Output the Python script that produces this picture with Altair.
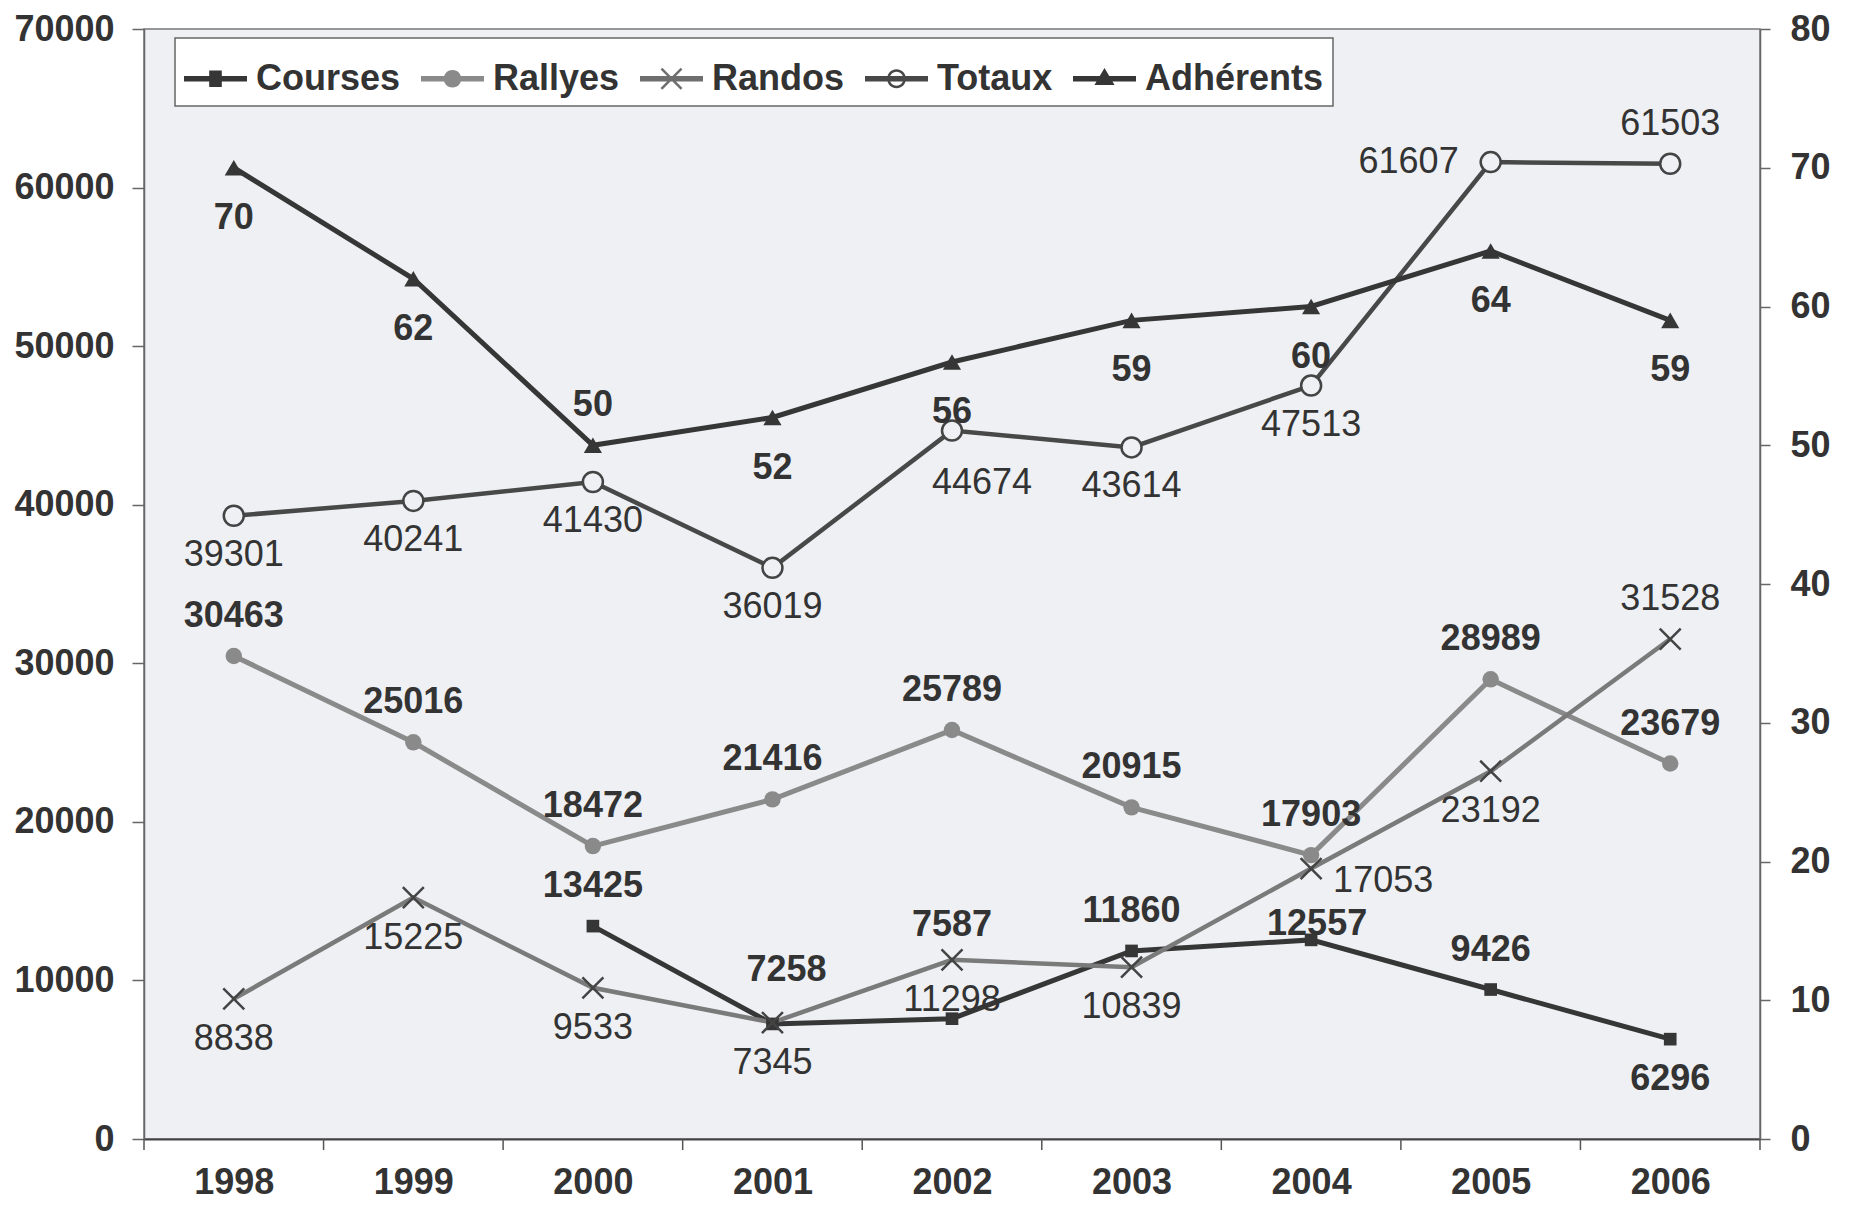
import math
import altair as alt
import pandas as pd

# ---------------- data ----------------
years = [1998, 1999, 2000, 2001, 2002, 2003, 2004, 2005, 2006]
courses = [None, None, 13425, 7258, 7587, 11860, 12557, 9426, 6296]
rallyes = [30463, 25016, 18472, 21416, 25789, 20915, 17903, 28989, 23679]
randos = [8838, 15225, 9533, 7345, 11298, 10839, 17053, 23192, 31528]
totaux = [39301, 40241, 41430, 36019, 44674, 43614, 47513, 61607, 61503]
adherents = [70, 62, 50, 52, 56, 59, 60, 64, 59]

# where each value label sits relative to its point
courses_pos = [None, None, "above", "above_r", "high", "above", "near", "above", "below"]
rallyes_pos = ["above"] * 9
randos_pos = ["below"] * 6 + ["right", "below", "above"]
totaux_pos = ["below"] * 4 + ["below_r"] + ["below"] * 2 + ["left", "above"]
adherents_pos = ["below", "below", "above"] + ["below"] * 6

series_names = ["Courses", "Rallyes", "Randos", "Totaux", "Adhérents"]
left_ticks = [0, 10000, 20000, 30000, 40000, 50000, 60000, 70000]
right_ticks = [0, 10, 20, 30, 40, 50, 60, 70, 80]

# ---------------- style ----------------
FONT = "Liberation Sans"
TXT = "#333333"
BG = "#eef0f4"
W, H = 1616, 1110
FS = 36

colors = {"Courses": "#363636", "Rallyes": "#8a8a8a", "Randos": "#7a7a7a",
          "Totaux": "#484848", "Adhérents": "#363636"}
widths = {"Courses": 5, "Rallyes": 5, "Randos": 4.5, "Totaux": 4.5, "Adhérents": 5}
bold = {"Courses": True, "Rallyes": True, "Randos": False, "Totaux": False, "Adhérents": True}
off_below = {"Courses": 40, "Rallyes": 40, "Randos": 40, "Totaux": 39, "Adhérents": 50}
off_above = {"Courses": 40, "Rallyes": 40, "Randos": 40, "Totaux": 40, "Adhérents": 40}

XPATH = "M-1,-1L1,1M-1,1L1,-1"
point_style = {
    "Courses": dict(shape="square", filled=True, size=160, color="#363636"),
    "Rallyes": dict(shape="circle", filled=True, size=270, color="#8a8a8a"),
    "Randos": dict(shape=XPATH, filled=False, size=440, color="#444444", strokeWidth=2.5),
    "Totaux": dict(shape="circle", filled=True, size=400, fill=BG, stroke="#444444", strokeWidth=2.5),
    "Adhérents": dict(shape="triangle-up", filled=True, size=330, color="#363636"),
}

xscale = alt.Scale(domain=[years[0] - 0.5, years[-1] + 0.5], nice=False, zero=False)
xaxis = alt.Axis(values=years, format="d", tickSize=0, labelFontSize=FS, labelFont=FONT,
                 labelFontWeight="bold", labelColor=TXT, labelPadding=26, domainColor="#444444",
                 domainWidth=2, grid=False, title=None, labelFlush=False, labelOverlap=False)
lscale = alt.Scale(domain=[0, 70000], nice=False, zero=True)
laxis = alt.Axis(values=left_ticks, format="d", orient="left", tickSize=12, tickColor="#666666",
                 tickWidth=1.5, domainColor="#666666", domainWidth=1.5, labelFontSize=FS,
                 labelFont=FONT, labelFontWeight="bold", labelColor=TXT, labelPadding=18,
                 grid=False, title=None, labelFlush=False, labelOverlap=False)
rscale = alt.Scale(domain=[0, 80], nice=False, zero=True)
raxis = alt.Axis(values=right_ticks, format="d", orient="right", tickSize=10, tickColor="#666666",
                 tickWidth=1.5, domainColor="#666666", domainWidth=1.5, labelFontSize=FS,
                 labelFont=FONT, labelFontWeight="bold", labelColor=TXT, labelPadding=20,
                 grid=False, title=None, labelFlush=False, labelOverlap=False)


def build(name, values, positions, yscale, yaxis):
    df = pd.DataFrame({"year": years, "value": values, "pos": positions}).dropna(subset=["value"])
    base = alt.Chart(df).encode(
        x=alt.X("year:Q", scale=xscale, axis=xaxis),
        y=alt.Y("value:Q", scale=yscale, axis=yaxis),
    )
    line = base.mark_line(color=colors[name], strokeWidth=widths[name])
    pts = base.mark_point(opacity=1, **point_style[name])
    vb, va = off_below[name], off_above[name]
    place = {"above": (0, -va, "center"), "below": (0, vb, "center"),
             "left": (-32, 0, "right"), "right": (22, 12, "left"),
             "high": (0, -94, "center"), "near": (6, -16, "center"),
             "above_r": (14, -54, "center"), "below_r": (30, 52, "center")}
    texts = []
    for p, (dx, dy, al) in place.items():
        if p not in set(df["pos"]):
            continue
        texts.append(
            base.transform_filter(alt.datum.pos == p)
            .mark_text(dx=dx, dy=dy, align=al, baseline="middle", fontSize=FS, font=FONT,
                       fontWeight="bold" if bold[name] else "normal", color=TXT)
            .encode(text=alt.Text("value:Q", format="d"))
        )
    return line, pts, texts


# ---------------- legend symbols (line + marker) ----------------
def poly(points, sign=1):
    a = sum(x0 * y1 - x1 * y0 for (x0, y0), (x1, y1) in zip(points, points[1:] + points[:1]))
    if a * sign < 0:
        points = points[::-1]
    return "M" + "L".join(f"{x:.3f},{y:.3f}" for x, y in points) + "Z"


def rect(x0, y0, x1, y1):
    return poly([(x0, y0), (x1, y0), (x1, y1), (x0, y1)])


def circ(r, sign=1, n=28):
    return poly([(r * math.cos(2 * math.pi * i / n), r * math.sin(2 * math.pi * i / n)) for i in range(n)], sign)


def bar(x0, y0, x1, y1, h):
    dx, dy = x1 - x0, y1 - y0
    L = math.hypot(dx, dy)
    nx, ny = -dy / L * h, dx / L * h
    return poly([(x0 + nx, y0 + ny), (x1 + nx, y1 + ny), (x1 - nx, y1 - ny), (x0 - nx, y0 - ny)])


t = 0.09
ln = rect(-1, -t, 1, t)
sym_paths = [
    ln + rect(-0.2, -0.26, 0.2, 0.26),
    ln + circ(0.28),
    ln + bar(-0.32, -0.32, 0.32, 0.32, 0.04) + bar(-0.32, 0.32, 0.32, -0.32, 0.04),
    ln + circ(0.3) + circ(0.22, -1),
    ln + poly([(0, -0.34), (0.32, 0.2), (-0.32, 0.2)]),
]
sym_colors = ["#363636", "#8a8a8a", "#6e6e6e", "#484848", "#363636"]

leg = alt.Legend(title=None, orient="none", legendX=31, legendY=9, direction="horizontal",
                 columns=5, symbolSize=3969, symbolStrokeWidth=0, labelFontSize=FS,
                 labelFontWeight="bold", labelColor=TXT, labelFont=FONT, labelOffset=9,
                 labelLimit=400, columnPadding=20, padding=9, fillColor="white",
                 strokeColor="#666666", symbolOpacity=1)

leg_df = pd.DataFrame({"series": series_names, "year": [years[-1] + 100] * 5, "value": [0] * 5})
legend_layer = alt.Chart(leg_df).mark_point(filled=True, opacity=1, clip=True).encode(
    x=alt.X("year:Q", scale=xscale, axis=xaxis),
    y=alt.Y("value:Q", scale=lscale, axis=laxis),
    shape=alt.Shape("series:N", scale=alt.Scale(domain=series_names, range=sym_paths), legend=leg),
    color=alt.Color("series:N", scale=alt.Scale(domain=series_names, range=sym_colors), legend=leg),
)

# x ticks between categories
bounds = [y - 0.5 for y in years] + [years[-1] + 0.5]
tick_layer = alt.Chart(pd.DataFrame({"year": bounds})).mark_rule(color="#555555", strokeWidth=1.5).encode(
    x=alt.X("year:Q", scale=xscale, axis=xaxis), y=alt.value(H), y2=alt.value(H + 11)
)

left_lines, left_pts, left_txt = [], [], []
for nm, vals, pos in [("Courses", courses, courses_pos), ("Rallyes", rallyes, rallyes_pos),
                      ("Randos", randos, randos_pos), ("Totaux", totaux, totaux_pos)]:
    l, p, tx = build(nm, vals, pos, lscale, laxis)
    left_lines.append(l)
    left_pts.append(p)
    left_txt.extend(tx)

a_line, a_pts, a_txt = build("Adhérents", adherents, adherents_pos, rscale, raxis)

left = alt.layer(tick_layer, legend_layer, *left_lines, *left_pts, *left_txt)
right = alt.layer(a_line, a_pts, *a_txt)

chart = (
    alt.layer(left, right)
    .resolve_scale(y="independent")
    .properties(width=W, height=H,
                padding={"left": 136, "top": 21, "right": 72, "bottom": 66},
                autosize=alt.AutoSizeParams(type="none"))
    .configure(background="white")
    .configure_view(fill=BG, stroke="#777777", strokeWidth=1.5)
    .configure_legend(strokeWidth=1.5, cornerRadius=0)
)

chart.save("out.html", embed_options={"renderer": "svg", "actions": False})
